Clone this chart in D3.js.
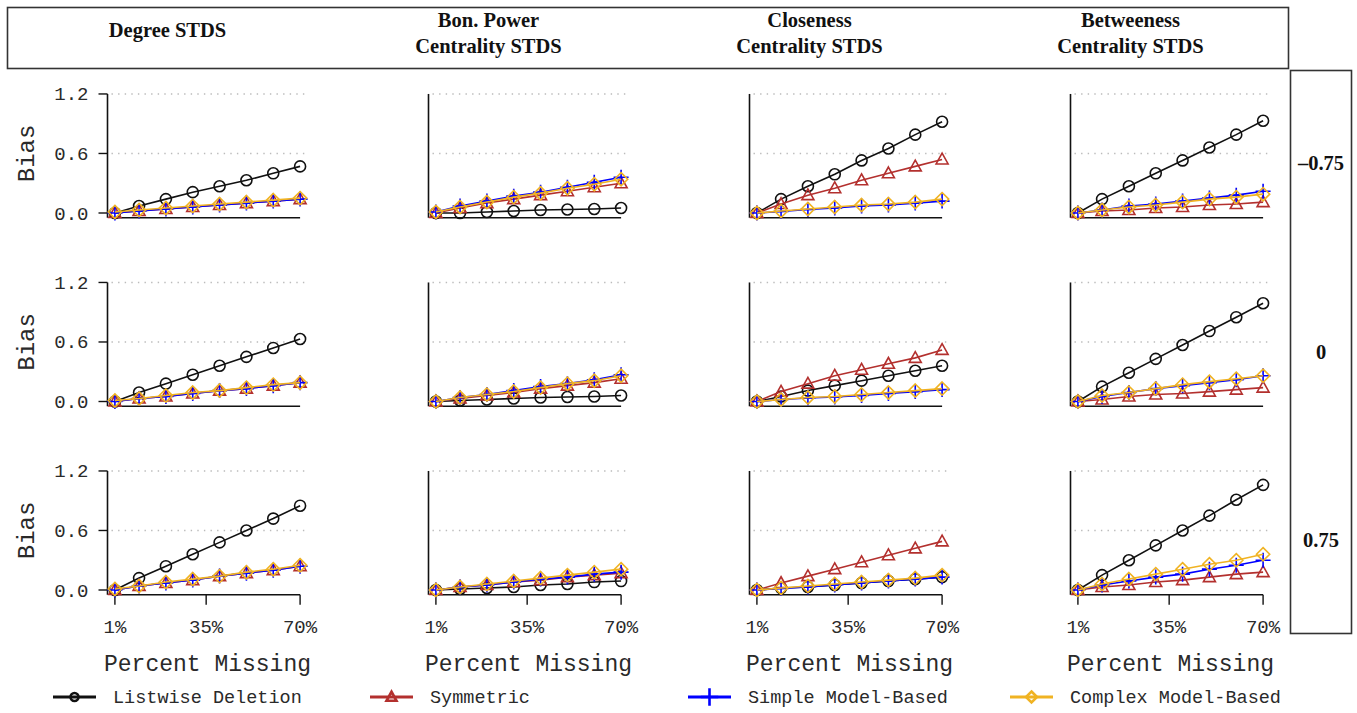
<!DOCTYPE html>
<html>
<head>
<meta charset="utf-8">
<script src="https://cdn.jsdelivr.net/npm/d3@7"></script>
<style>
  body { margin: 0; background: #fff; }
  svg { display: block; }
</style>
</head>
<body>
<script>
// percent missing at which each condition was simulated
var missingPct = [1, 10, 20, 30, 40, 50, 60, 70];
var xTicks = [1, 35, 70];
var xTickLabels = ["1%", "35%", "70%"];
var yTicks = [0, 0.6, 1.2];
var yTickLabels = ["0.0", "0.6", "1.2"];

var colTitles = [
  ["Degree STDS"],
  ["Bon. Power", "Centrality STDS"],
  ["Closeness", "Centrality STDS"],
  ["Betweeness", "Centrality STDS"]
];
var rowLabels = ["\u20130.75", "0", "0.75"];
var methods = ["Listwise Deletion", "Symmetric", "Simple Model-Based", "Complex Model-Based"];

// bias values, [row][column][point]
var listwise = [
  [[0, 0.07, 0.14, 0.21, 0.27, 0.33, 0.40, 0.47],
   [0, 0.00, 0.01, 0.02, 0.03, 0.035, 0.04, 0.05],
   [0, 0.14, 0.27, 0.39, 0.53, 0.65, 0.79, 0.92],
   [0, 0.14, 0.27, 0.40, 0.53, 0.66, 0.79, 0.93]],
  [[0, 0.09, 0.18, 0.27, 0.36, 0.45, 0.54, 0.63],
   [0, 0.01, 0.02, 0.03, 0.04, 0.045, 0.05, 0.06],
   [0, 0.05, 0.11, 0.16, 0.21, 0.26, 0.31, 0.36],
   [0, 0.15, 0.29, 0.43, 0.57, 0.71, 0.85, 0.99]],
  [[0, 0.12, 0.24, 0.36, 0.48, 0.60, 0.72, 0.85],
   [0, 0.01, 0.02, 0.03, 0.05, 0.06, 0.08, 0.09],
   [0, 0.02, 0.03, 0.05, 0.07, 0.09, 0.11, 0.13],
   [0, 0.15, 0.30, 0.45, 0.60, 0.75, 0.91, 1.06]]
];
var symmetric = [
  [[0, 0.02, 0.04, 0.06, 0.08, 0.10, 0.12, 0.14],
   [0, 0.05, 0.10, 0.14, 0.18, 0.22, 0.26, 0.30],
   [0, 0.09, 0.18, 0.25, 0.33, 0.40, 0.47, 0.54],
   [0, 0.02, 0.03, 0.05, 0.06, 0.08, 0.09, 0.11]],
  [[0, 0.03, 0.05, 0.08, 0.11, 0.13, 0.16, 0.19],
   [0, 0.03, 0.06, 0.09, 0.13, 0.16, 0.19, 0.23],
   [0, 0.10, 0.18, 0.26, 0.32, 0.38, 0.44, 0.52],
   [0, 0.02, 0.05, 0.07, 0.08, 0.10, 0.12, 0.14]],
  [[0, 0.04, 0.07, 0.10, 0.14, 0.17, 0.20, 0.24],
   [0, 0.03, 0.05, 0.08, 0.10, 0.13, 0.15, 0.17],
   [0, 0.07, 0.14, 0.21, 0.28, 0.35, 0.42, 0.49],
   [0, 0.03, 0.05, 0.08, 0.10, 0.13, 0.16, 0.18]]
];
var simpleModel = [
  [[0, 0.02, 0.04, 0.06, 0.08, 0.10, 0.12, 0.14],
   [0.01, 0.07, 0.12, 0.17, 0.21, 0.26, 0.31, 0.36],
   [0, 0.015, 0.035, 0.05, 0.07, 0.08, 0.10, 0.12],
   [0, 0.03, 0.07, 0.09, 0.12, 0.15, 0.18, 0.22]],
  [[0, 0.03, 0.05, 0.08, 0.11, 0.13, 0.16, 0.19],
   [0, 0.04, 0.07, 0.11, 0.15, 0.18, 0.22, 0.27],
   [0, 0.02, 0.035, 0.045, 0.06, 0.08, 0.10, 0.12],
   [0, 0.05, 0.09, 0.13, 0.16, 0.19, 0.22, 0.26]],
  [[0, 0.04, 0.07, 0.10, 0.14, 0.17, 0.20, 0.24],
   [0, 0.03, 0.05, 0.08, 0.11, 0.13, 0.16, 0.18],
   [0, 0.015, 0.03, 0.05, 0.07, 0.09, 0.11, 0.13],
   [0, 0.05, 0.09, 0.13, 0.16, 0.21, 0.25, 0.30]]
];
var complexModel = [
  [[0.01, 0.03, 0.05, 0.07, 0.09, 0.11, 0.13, 0.15],
   [0.01, 0.06, 0.11, 0.16, 0.20, 0.25, 0.29, 0.34],
   [0, 0.02, 0.04, 0.06, 0.08, 0.09, 0.11, 0.14],
   [0, 0.03, 0.06, 0.08, 0.11, 0.14, 0.16, 0.19]],
  [[0.01, 0.03, 0.06, 0.09, 0.11, 0.14, 0.17, 0.19],
   [0, 0.04, 0.07, 0.10, 0.14, 0.18, 0.21, 0.26],
   [0, 0.02, 0.04, 0.05, 0.07, 0.09, 0.11, 0.13],
   [0, 0.06, 0.09, 0.13, 0.17, 0.20, 0.23, 0.26]],
  [[0.01, 0.04, 0.08, 0.11, 0.14, 0.18, 0.21, 0.25],
   [0, 0.03, 0.06, 0.09, 0.12, 0.15, 0.18, 0.21],
   [0, 0.02, 0.04, 0.06, 0.08, 0.10, 0.12, 0.15],
   [0, 0.06, 0.11, 0.16, 0.21, 0.26, 0.30, 0.36]]
];

var seriesData = [listwise, symmetric, simpleModel, complexModel];
var colors = ["#111111", "#b3302e", "#0000ff", "#f0b323"];
var shapes = ["circle", "triangle", "plus", "diamond"];

var W = 1357, H = 713;
var mono = "'Liberation Mono', 'DejaVu Sans Mono', monospace";
var serif = "'Liberation Serif', 'Times New Roman', serif";

var svg = d3.select("body").append("svg")
    .attr("width", W)
    .attr("height", H);

// panel geometry (R style, 4% padding on each axis)
var colStep = 321, firstCol = 107.5, panelW = 200;
var rowStep = 188.5, firstZero = 213, unitPx = 99.2;
var xPad = (70 - 1) * 0.04, yPad = 1.2 * 0.04;

function markerPath(shape, s) {
  if (shape == "triangle") return "M0," + (-s * 1.05) + "L" + s + "," + (s * 0.75) + "L" + (-s) + "," + (s * 0.75) + "Z";
  if (shape == "diamond") return "M0," + (-s * 1.1) + "L" + (s * 1.1) + ",0L0," + (s * 1.1) + "L" + (-s * 1.1) + ",0Z";
  if (shape == "plus") return "M0," + (-s * 1.25) + "V" + (s * 1.25) + "M" + (-s * 1.25) + ",0H" + (s * 1.25);
  return null;
}

function drawMarker(g, shape, color, cx, cy, s, sw) {
  if (shape == "circle") {
    g.append("circle")
      .attr("cx", cx).attr("cy", cy).attr("r", s)
      .attr("fill", "none").attr("stroke", color).attr("stroke-width", sw);
  } else {
    g.append("path")
      .attr("transform", "translate(" + cx + "," + cy + ")")
      .attr("d", markerPath(shape, s))
      .attr("fill", "none").attr("stroke", color).attr("stroke-width", sw);
  }
}

// header strip
svg.append("rect")
    .attr("x", 7.5).attr("y", 7.5).attr("width", 1281).attr("height", 61)
    .attr("fill", "none").attr("stroke", "#333").attr("stroke-width", 1.6);

colTitles.forEach(function(lines, c) {
  var cx = firstCol + c * colStep + 60;
  var t = svg.append("text")
      .attr("x", cx)
      .attr("text-anchor", "middle")
      .style("font", "bold 20.5px " + serif)
      .style("fill", "#111");
  if (lines.length == 1) {
    t.attr("y", 37).text(lines[0]);
  } else {
    t.append("tspan").attr("x", cx).attr("y", 27).text(lines[0]);
    t.append("tspan").attr("x", cx).attr("y", 53).text(lines[1]);
  }
});

// right strip
svg.append("rect")
    .attr("x", 1290.5).attr("y", 70.5).attr("width", 61).attr("height", 563)
    .attr("fill", "none").attr("stroke", "#333").attr("stroke-width", 1.6);

var line = d3.line();

rowLabels.forEach(function(lab, r) {
  var zero = firstZero + r * rowStep;
  var y = d3.scaleLinear()
      .domain([-yPad, 1.2 + yPad])
      .range([zero + yPad * unitPx, zero - (1.2 + yPad) * unitPx]);

  svg.append("text")
      .attr("x", 1321)
      .attr("y", y(0.5) + 7)
      .attr("text-anchor", "middle")
      .style("font", "bold 20.5px " + serif)
      .style("fill", "#111")
      .text(lab);

  colTitles.forEach(function(t, c) {
    var left = firstCol + c * colStep;
    var x = d3.scaleLinear()
        .domain([1 - xPad, 70 + xPad])
        .range([left, left + panelW]);
    var g = svg.append("g");

    // dotted grid
    [0.6, 1.2].forEach(function(v) {
      g.append("line")
        .attr("x1", x.range()[0] + 4).attr("x2", x.range()[1])
        .attr("y1", y(v)).attr("y2", y(v))
        .attr("stroke", "#bbb").attr("stroke-width", 1.4)
        .attr("stroke-dasharray", "1.4,5.2");
    });

    // axis lines
    g.append("line")
      .attr("x1", left).attr("x2", left)
      .attr("y1", y(1.2)).attr("y2", y(-yPad))
      .attr("stroke", "#111").attr("stroke-width", 1.6);
    g.append("line")
      .attr("x1", x(1)).attr("x2", x(70))
      .attr("y1", y(-yPad)).attr("y2", y(-yPad))
      .attr("stroke", "#111").attr("stroke-width", 1.6);

    if (c == 0) {
      yTicks.forEach(function(v, i) {
        g.append("line")
          .attr("x1", left - 9).attr("x2", left)
          .attr("y1", y(v)).attr("y2", y(v))
          .attr("stroke", "#111").attr("stroke-width", 1.4);
        g.append("text")
          .attr("x", left - 19).attr("y", y(v) + 6.5)
          .attr("text-anchor", "end")
          .style("font", "19px " + mono)
          .style("fill", "#2a2a2a")
          .text(yTickLabels[i]);
      });
      g.append("text")
        .attr("transform", "translate(34," + y(0.6) + ") rotate(-90)")
        .attr("text-anchor", "middle")
        .style("font", "24px " + mono)
        .style("fill", "#2a2a2a")
        .text("Bias");
    }

    if (r == rowLabels.length - 1) {
      xTicks.forEach(function(v, i) {
        g.append("line")
          .attr("x1", x(v)).attr("x2", x(v))
          .attr("y1", y(-yPad)).attr("y2", y(-yPad) + 10)
          .attr("stroke", "#111").attr("stroke-width", 1.4);
        g.append("text")
          .attr("x", x(v)).attr("y", 633)
          .attr("text-anchor", "middle")
          .style("font", "19px " + mono)
          .style("fill", "#2a2a2a")
          .text(xTickLabels[i]);
      });
      g.append("text")
        .attr("x", x(35.5)).attr("y", 671)
        .attr("text-anchor", "middle")
        .style("font", "23px " + mono)
        .style("fill", "#2a2a2a")
        .text("Percent Missing");
    }

    // series
    seriesData.forEach(function(sd, k) {
      var vals = sd[r][c];
      var pts = vals.map(function(v, i) { return [x(missingPct[i]), y(v)]; });
      g.append("path")
        .attr("d", line(pts))
        .attr("fill", "none")
        .attr("stroke", colors[k])
        .attr("stroke-width", 1.6);
      pts.forEach(function(p) {
        drawMarker(g, shapes[k], colors[k], p[0], p[1], shapes[k] == "circle" ? 5.5 : 6, 1.6);
      });
    });
  });
});

// legend
var legendX = [53, 370, 688, 1010];
methods.forEach(function(m, k) {
  var lx = legendX[k], ly = 697;
  svg.append("line")
    .attr("x1", lx).attr("x2", lx + 43)
    .attr("y1", ly).attr("y2", ly)
    .attr("stroke", colors[k]).attr("stroke-width", 3);
  drawMarker(svg, shapes[k], colors[k], lx + 21.5, ly, shapes[k] == "circle" ? 4 : (shapes[k] == "plus" ? 7 : 5), 2.6);
  svg.append("text")
    .attr("x", lx + 60).attr("y", ly + 6)
    .style("font", "18.5px " + mono)
    .style("fill", "#2a2a2a")
    .text(m);
});
</script>
</body>
</html>
